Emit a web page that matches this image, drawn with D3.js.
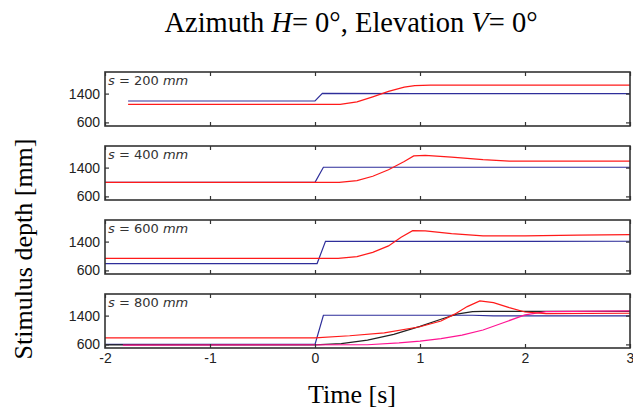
<!DOCTYPE html>
<html><head><meta charset="utf-8">
<script src="https://cdn.jsdelivr.net/npm/d3@7"></script>
<style>body{margin:0;background:#fff}svg{display:block}</style>
</head><body>
<svg id="c" width="633" height="412"></svg>
<script>
// ---- data ----
const xTicks = [-2, -1, 0, 1, 2, 3];
const yTicks = [600, 1400];
const panelLabels = ["200", "400", "600", "800"];

const blue1T = [-1.78, 0, 0.07, 1, 2, 3];
const blue1V = [1195, 1195, 1405, 1402, 1400, 1400];
const red1T = [-1.78, 0.24, 0.4, 0.55, 0.7, 0.85, 0.95, 1.1, 2, 3];
const red1V = [1100, 1100, 1170, 1310, 1460, 1580, 1620, 1635, 1635, 1635];

const blue2T = [-2, 0, 0.08, 1, 2, 3];
const blue2V = [990, 990, 1410, 1410, 1410, 1410];
const red2T = [-2, 0.23, 0.4, 0.55, 0.7, 0.85, 0.94, 1.05, 1.3, 1.6, 1.85, 3];
const red2V = [990, 990, 1040, 1160, 1340, 1570, 1725, 1740, 1690, 1620, 1580, 1580];

const blue3T = [-2, -1, 0, 0.02, 0.1, 1, 2, 3];
const blue3V = [790, 790, 790, 790, 1410, 1405, 1405, 1410];
const red3T = [-2, 0.22, 0.4, 0.55, 0.7, 0.82, 0.93, 1.05, 1.3, 1.6, 2, 2.5, 3];
const red3V = [935, 935, 985, 1100, 1280, 1520, 1705, 1700, 1620, 1560, 1560, 1580, 1595];

const blue4T = [-2, 0, 0.08, 1, 1.5, 1.7, 3];
const blue4V = [600, 600, 1410, 1410, 1410, 1395, 1395];
const red4T = [-2, 0, 0.33, 0.66, 1.0, 1.2, 1.33, 1.45, 1.57, 1.7, 1.85, 2.0, 2.2, 3];
const red4V = [784, 784, 840, 920, 1090, 1250, 1440, 1650, 1810, 1760, 1620, 1500, 1455, 1465];
const black4T = [-2, 0, 0.25, 0.5, 0.75, 1.0, 1.2, 1.35, 1.5, 1.6, 3];
const black4V = [588, 588, 620, 720, 880, 1100, 1300, 1440, 1510, 1520, 1520];
const magenta4T = [-1.83, 0.5, 0.8, 1.0, 1.2, 1.4, 1.6, 1.8, 2.0, 2.2, 3];
const magenta4V = [578, 590, 640, 690, 760, 860, 1000, 1210, 1420, 1510, 1530];

const panels = [
  [{t: blue1T, v: blue1V, c: "#2e2e9a"}, {t: red1T, v: red1V, c: "#ff1a1a"}],
  [{t: blue2T, v: blue2V, c: "#2e2e9a"}, {t: red2T, v: red2V, c: "#ff1a1a"}],
  [{t: blue3T, v: blue3V, c: "#2e2e9a"}, {t: red3T, v: red3V, c: "#ff1a1a"}],
  [{t: blue4T, v: blue4V, c: "#2e2e9a"}, {t: black4T, v: black4V, c: "#222222"},
   {t: magenta4T, v: magenta4V, c: "#ff1493"}, {t: red4T, v: red4V, c: "#ff1a1a"}]
];

// ---- layout ----
const svg = d3.select("#c");
const left = 105, right = 630, ph = 54, top0 = 72, step = 74;
const x = d3.scaleLinear().domain([-2, 3]).range([left, right]);
const frame = "#333";
const fmt = d => String(d);

panels.forEach((series, i) => {
  const top = top0 + i * step;
  const y = d3.scaleLinear().domain([500, 2000]).range([top + ph, top]);
  const g = svg.append("g");
  const cid = "clip" + i;
  g.append("clipPath").attr("id", cid).append("rect")
    .attr("x", left).attr("y", top).attr("width", right - left).attr("height", ph);

  const line = d3.line().x(d => x(d[0])).y(d => y(d[1]));
  series.forEach(s => {
    g.append("path").attr("clip-path", `url(#${cid})`)
      .attr("d", line(s.t.map((t, k) => [t, s.v[k]])))
      .attr("fill", "none").attr("stroke", s.c).attr("stroke-width", 1.2);
  });

  const ab = g.append("g").attr("transform", `translate(0,${top + ph})`)
    .call(d3.axisBottom(x).tickValues(xTicks).tickSizeInner(-4).tickSizeOuter(0)
      .tickFormat(i === 3 ? fmt : () => ""));
  const at = g.append("g").attr("transform", `translate(0,${top})`)
    .call(d3.axisTop(x).tickValues(xTicks).tickSizeInner(-4).tickSizeOuter(0).tickFormat(() => ""));
  const al = g.append("g").attr("transform", `translate(${left},0)`)
    .call(d3.axisLeft(y).tickValues(yTicks).tickSizeInner(-4).tickSizeOuter(0).tickPadding(5).tickFormat(fmt));
  const ar = g.append("g").attr("transform", `translate(${right},0)`)
    .call(d3.axisRight(y).tickValues(yTicks).tickSizeInner(-4).tickSizeOuter(0).tickFormat(() => ""));
  [ab, at, al, ar].forEach(a => {
    a.select(".domain").remove();
    a.selectAll(".tick line").attr("stroke", frame).attr("stroke-width", 1.2);
    a.selectAll("text").attr("font-family", "Liberation Sans, Arial, sans-serif")
      .attr("font-size", 14).attr("fill", "#222");
  });
  ab.selectAll("text").attr("dy", "0.85em");

  g.append("rect").attr("x", left).attr("y", top).attr("width", right - left).attr("height", ph)
    .attr("fill", "none").attr("stroke", frame).attr("stroke-width", 1.6);

  const lab = g.append("text").attr("x", left + 3).attr("y", top + 13)
    .attr("font-family", "DejaVu Sans, sans-serif").attr("font-size", 13).attr("fill", "#333");
  lab.append("tspan").attr("font-style", "italic").text("s");
  lab.append("tspan").text(" = " + panelLabels[i] + " ");
  lab.append("tspan").attr("font-style", "italic").text("mm");
});

// titles
const serif = "Liberation Serif, Times New Roman, serif";
const title = svg.append("text").attr("x", 351).attr("y", 32).attr("text-anchor", "middle")
  .attr("font-family", serif).attr("font-size", 28.5).attr("fill", "#000");
title.append("tspan").text("Azimuth ");
title.append("tspan").attr("font-style", "italic").text("H");
title.append("tspan").text("= 0°, Elevation ");
title.append("tspan").attr("font-style", "italic").text("V");
title.append("tspan").text("= 0°");

svg.append("text").attr("x", 352).attr("y", 403).attr("text-anchor", "middle")
  .attr("font-family", serif).attr("font-size", 26).attr("fill", "#000").text("Time [s]");

svg.append("text").attr("transform", "translate(32,249) rotate(-90)").attr("text-anchor", "middle")
  .attr("font-family", serif).attr("font-size", 26).attr("fill", "#000").text("Stimulus depth [mm]");
</script>
</body></html>
